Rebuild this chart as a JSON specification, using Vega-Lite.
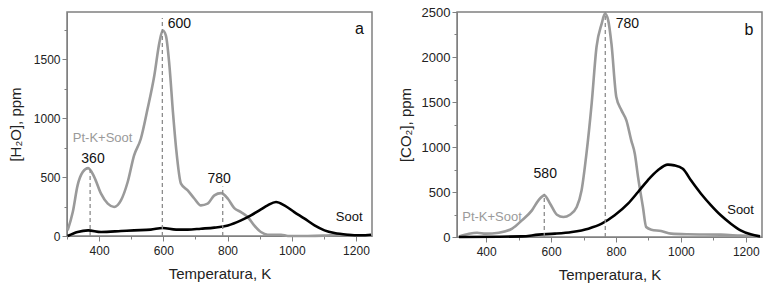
{
  "$schema": "https://vega.github.io/schema/vega-lite/v6.json",
  "padding": {"left": 7, "top": 5, "right": 8, "bottom": 4},
  "spacing": 20,
  "config": {
    "font": "Liberation Sans",
    "view": {"stroke": "#808080", "strokeWidth": 1.5},
    "axis": {"grid": false, "format": "d", "labelFont": "Liberation Sans", "titleFont": "Liberation Sans", "labelFontSize": 12, "titleFontSize": 15, "titleFontWeight": "normal", "labelColor": "#222222", "titleColor": "#222222", "tickColor": "#808080", "domainColor": "#808080", "tickSize": 5, "labelPadding": 2},
    "axisX": {"labelPadding": 4}
  },
  "datasets": {
    "h2o": [
      {"T":302,"v":48,"s":"Pt-K+Soot"},{"T":318,"v":203,"s":"Pt-K+Soot"},{"T":333,"v":429,"s":"Pt-K+Soot"},{"T":349,"v":542,"s":"Pt-K+Soot"},{"T":366,"v":576,"s":"Pt-K+Soot"},{"T":385,"v":500,"s":"Pt-K+Soot"},{"T":406,"v":359,"s":"Pt-K+Soot"},{"T":427,"v":274,"s":"Pt-K+Soot"},{"T":447,"v":246,"s":"Pt-K+Soot"},{"T":468,"v":302,"s":"Pt-K+Soot"},{"T":489,"v":458,"s":"Pt-K+Soot"},{"T":509,"v":684,"s":"Pt-K+Soot"},{"T":530,"v":825,"s":"Pt-K+Soot"},{"T":551,"v":1079,"s":"Pt-K+Soot"},{"T":572,"v":1362,"s":"Pt-K+Soot"},{"T":588,"v":1644,"s":"Pt-K+Soot"},{"T":598,"v":1743,"s":"Pt-K+Soot"},{"T":608,"v":1700,"s":"Pt-K+Soot"},{"T":619,"v":1446,"s":"Pt-K+Soot"},{"T":630,"v":1051,"s":"Pt-K+Soot"},{"T":640,"v":740,"s":"Pt-K+Soot"},{"T":655,"v":444,"s":"Pt-K+Soot"},{"T":676,"v":387,"s":"Pt-K+Soot"},{"T":697,"v":316,"s":"Pt-K+Soot"},{"T":717,"v":260,"s":"Pt-K+Soot"},{"T":738,"v":274,"s":"Pt-K+Soot"},{"T":759,"v":345,"s":"Pt-K+Soot"},{"T":780,"v":364,"s":"Pt-K+Soot"},{"T":801,"v":316,"s":"Pt-K+Soot"},{"T":821,"v":237,"s":"Pt-K+Soot"},{"T":842,"v":203,"s":"Pt-K+Soot"},{"T":863,"v":161,"s":"Pt-K+Soot"},{"T":883,"v":90,"s":"Pt-K+Soot"},{"T":904,"v":34,"s":"Pt-K+Soot"},{"T":925,"v":11,"s":"Pt-K+Soot"},{"T":967,"v":11,"s":"Pt-K+Soot"},{"T":988,"v":0,"s":"Pt-K+Soot"},{"T":1050,"v":0,"s":"Pt-K+Soot"},{"T":1100,"v":3,"s":"Pt-K+Soot"},{"T":1150,"v":10,"s":"Pt-K+Soot"},{"T":1200,"v":5,"s":"Pt-K+Soot"},{"T":1247,"v":3,"s":"Pt-K+Soot"},
      {"T":302,"v":0,"s":"Soot"},{"T":333,"v":34,"s":"Soot"},{"T":366,"v":48,"s":"Soot"},{"T":406,"v":34,"s":"Soot"},{"T":468,"v":42,"s":"Soot"},{"T":509,"v":48,"s":"Soot"},{"T":561,"v":54,"s":"Soot"},{"T":598,"v":68,"s":"Soot"},{"T":640,"v":54,"s":"Soot"},{"T":676,"v":54,"s":"Soot"},{"T":717,"v":62,"s":"Soot"},{"T":759,"v":71,"s":"Soot"},{"T":801,"v":90,"s":"Soot"},{"T":842,"v":133,"s":"Soot"},{"T":873,"v":175,"s":"Soot"},{"T":904,"v":226,"s":"Soot"},{"T":925,"v":260,"s":"Soot"},{"T":951,"v":288,"s":"Soot"},{"T":977,"v":260,"s":"Soot"},{"T":1008,"v":203,"s":"Soot"},{"T":1040,"v":147,"s":"Soot"},{"T":1071,"v":90,"s":"Soot"},{"T":1102,"v":48,"s":"Soot"},{"T":1133,"v":25,"s":"Soot"},{"T":1174,"v":11,"s":"Soot"},{"T":1216,"v":6,"s":"Soot"},{"T":1247,"v":11,"s":"Soot"}
    ],
    "co2": [
      {"T":316,"v":7,"s":"Pt-K+Soot"},{"T":347,"v":37,"s":"Pt-K+Soot"},{"T":372,"v":48,"s":"Pt-K+Soot"},{"T":398,"v":37,"s":"Pt-K+Soot"},{"T":439,"v":48,"s":"Pt-K+Soot"},{"T":480,"v":93,"s":"Pt-K+Soot"},{"T":510,"v":185,"s":"Pt-K+Soot"},{"T":541,"v":296,"s":"Pt-K+Soot"},{"T":561,"v":407,"s":"Pt-K+Soot"},{"T":579,"v":463,"s":"Pt-K+Soot"},{"T":597,"v":370,"s":"Pt-K+Soot"},{"T":618,"v":248,"s":"Pt-K+Soot"},{"T":638,"v":222,"s":"Pt-K+Soot"},{"T":658,"v":248,"s":"Pt-K+Soot"},{"T":679,"v":333,"s":"Pt-K+Soot"},{"T":694,"v":519,"s":"Pt-K+Soot"},{"T":709,"v":926,"s":"Pt-K+Soot"},{"T":725,"v":1482,"s":"Pt-K+Soot"},{"T":740,"v":2111,"s":"Pt-K+Soot"},{"T":756,"v":2370,"s":"Pt-K+Soot"},{"T":766,"v":2482,"s":"Pt-K+Soot"},{"T":776,"v":2407,"s":"Pt-K+Soot"},{"T":786,"v":2148,"s":"Pt-K+Soot"},{"T":801,"v":1556,"s":"Pt-K+Soot"},{"T":817,"v":1407,"s":"Pt-K+Soot"},{"T":832,"v":1296,"s":"Pt-K+Soot"},{"T":847,"v":1074,"s":"Pt-K+Soot"},{"T":858,"v":926,"s":"Pt-K+Soot"},{"T":868,"v":667,"s":"Pt-K+Soot"},{"T":883,"v":333,"s":"Pt-K+Soot"},{"T":893,"v":111,"s":"Pt-K+Soot"},{"T":909,"v":81,"s":"Pt-K+Soot"},{"T":939,"v":67,"s":"Pt-K+Soot"},{"T":970,"v":37,"s":"Pt-K+Soot"},{"T":1021,"v":30,"s":"Pt-K+Soot"},{"T":1123,"v":26,"s":"Pt-K+Soot"},{"T":1184,"v":15,"s":"Pt-K+Soot"},{"T":1244,"v":7,"s":"Pt-K+Soot"},
      {"T":316,"v":0,"s":"Soot"},{"T":510,"v":7,"s":"Soot"},{"T":561,"v":26,"s":"Soot"},{"T":612,"v":37,"s":"Soot"},{"T":664,"v":56,"s":"Soot"},{"T":715,"v":93,"s":"Soot"},{"T":756,"v":148,"s":"Soot"},{"T":796,"v":241,"s":"Soot"},{"T":837,"v":370,"s":"Soot"},{"T":868,"v":500,"s":"Soot"},{"T":898,"v":630,"s":"Soot"},{"T":929,"v":741,"s":"Soot"},{"T":960,"v":804,"s":"Soot"},{"T":980,"v":796,"s":"Soot"},{"T":1006,"v":759,"s":"Soot"},{"T":1031,"v":630,"s":"Soot"},{"T":1062,"v":481,"s":"Soot"},{"T":1093,"v":352,"s":"Soot"},{"T":1123,"v":241,"s":"Soot"},{"T":1154,"v":148,"s":"Soot"},{"T":1184,"v":74,"s":"Soot"},{"T":1215,"v":30,"s":"Soot"},{"T":1244,"v":7,"s":"Soot"}
    ]
  },
  "hconcat": [
    {
      "width": 305, "height": 224,
      "resolve": {"axis": {"x": "independent", "y": "independent"}},
      "layer": [
        {
          "data": {"name": "h2o"},
          "mark": {"type": "line", "strokeWidth": 2.6, "interpolate": "monotone"},
          "encoding": {
            "x": {"field": "T", "type": "quantitative", "scale": {"domain": [300, 1250], "nice": false}, "axis": {"values": [400, 600, 800, 1000, 1200], "title": "Temperatura, K", "titlePadding": 10}},
            "y": {"field": "v", "type": "quantitative", "scale": {"domain": [0, 1900], "nice": false}, "axis": {"values": [0, 500, 1000, 1500], "title": "[H₂O], ppm", "titlePadding": 10}},
            "color": {"field": "s", "type": "nominal", "scale": {"domain": ["Pt-K+Soot", "Soot"], "range": ["#9a9a9a", "#000000"]}, "legend": null},
            "order": {"field": "T"}
          }
        },
        {
          "data": {"values": [{"T": 372, "v0": 0, "v1": 580}, {"T": 597, "v0": 0, "v1": 1850}, {"T": 785, "v0": 0, "v1": 420}]},
          "mark": {"type": "rule", "strokeDash": [4, 3], "color": "#8c8c8c", "strokeWidth": 1.3},
          "encoding": {
            "x": {"field": "T", "type": "quantitative", "axis": {"values": [300, 500, 700, 900, 1100], "labels": false, "title": null, "domain": false, "tickSize": 3, "orient": "bottom"}},
            "y": {"field": "v0", "type": "quantitative", "axis": {"values": [250, 750, 1250, 1750], "labels": false, "title": null, "domain": false, "tickSize": 3, "orient": "left"}},
            "y2": {"field": "v1"}
          }
        },
        {
          "data": {"values": [{"T": 381, "v": 649, "label": "360"}, {"T": 650, "v": 1799, "label": "600"}, {"T": 774, "v": 486, "label": "780"}]},
          "mark": {"type": "text", "fontSize": 14, "color": "#111111", "align": "center", "baseline": "middle"},
          "encoding": {
            "x": {"field": "T", "type": "quantitative", "axis": null},
            "y": {"field": "v", "type": "quantitative", "axis": null},
            "text": {"field": "label"}
          }
        },
        {
          "data": {"values": [{"T": 1179, "v": 161, "label": "Soot"}]},
          "mark": {"type": "text", "fontSize": 13, "color": "#111111", "align": "center", "baseline": "middle"},
          "encoding": {
            "x": {"field": "T", "type": "quantitative", "axis": null},
            "y": {"field": "v", "type": "quantitative", "axis": null},
            "text": {"field": "label"}
          }
        },
        {
          "data": {"values": [{"T": 411, "v": 833, "label": "Pt-K+Soot"}]},
          "mark": {"type": "text", "fontSize": 13, "color": "#9a9a9a", "align": "center", "baseline": "middle"},
          "encoding": {
            "x": {"field": "T", "type": "quantitative", "axis": null},
            "y": {"field": "v", "type": "quantitative", "axis": null},
            "text": {"field": "label"}
          }
        },
        {
          "data": {"values": [{"T": 1211, "v": 1757, "label": "a"}]},
          "mark": {"type": "text", "fontSize": 16, "color": "#111111", "align": "center", "baseline": "middle"},
          "encoding": {
            "x": {"field": "T", "type": "quantitative", "axis": null},
            "y": {"field": "v", "type": "quantitative", "axis": null},
            "text": {"field": "label"}
          }
        }
      ]
    },
    {
      "width": 305, "height": 225,
      "resolve": {"axis": {"x": "independent", "y": "independent"}},
      "layer": [
        {
          "data": {"name": "co2"},
          "mark": {"type": "line", "strokeWidth": 2.6, "interpolate": "monotone"},
          "encoding": {
            "x": {"field": "T", "type": "quantitative", "scale": {"domain": [310, 1250], "nice": false}, "axis": {"values": [400, 600, 800, 1000, 1200], "title": "Temperatura, K", "titlePadding": 10}},
            "y": {"field": "v", "type": "quantitative", "scale": {"domain": [0, 2500], "nice": false}, "axis": {"values": [0, 500, 1000, 1500, 2000, 2500], "title": "[CO₂], ppm", "titlePadding": 8, "labelFontSize": 13}},
            "color": {"field": "s", "type": "nominal", "scale": {"domain": ["Pt-K+Soot", "Soot"], "range": ["#9a9a9a", "#000000"]}, "legend": null},
            "order": {"field": "T"}
          }
        },
        {
          "data": {"values": [{"T": 579, "v0": 0, "v1": 480}, {"T": 767, "v0": 0, "v1": 2500}]},
          "mark": {"type": "rule", "strokeDash": [4, 3], "color": "#8c8c8c", "strokeWidth": 1.3},
          "encoding": {
            "x": {"field": "T", "type": "quantitative", "axis": {"values": [500, 700, 900, 1100], "labels": false, "title": null, "domain": false, "tickSize": 3, "orient": "bottom"}},
            "y": {"field": "v0", "type": "quantitative", "axis": {"values": [250, 750, 1250, 1750, 2250], "labels": false, "title": null, "domain": false, "tickSize": 3, "orient": "left"}},
            "y2": {"field": "v1"}
          }
        },
        {
          "data": {"values": [{"T": 582, "v": 696, "label": "580"}, {"T": 835, "v": 2370, "label": "780"}]},
          "mark": {"type": "text", "fontSize": 14, "color": "#111111", "align": "center", "baseline": "middle"},
          "encoding": {
            "x": {"field": "T", "type": "quantitative", "axis": null},
            "y": {"field": "v", "type": "quantitative", "axis": null},
            "text": {"field": "label"}
          }
        },
        {
          "data": {"values": [{"T": 1184, "v": 296, "label": "Soot"}]},
          "mark": {"type": "text", "fontSize": 13, "color": "#111111", "align": "center", "baseline": "middle"},
          "encoding": {
            "x": {"field": "T", "type": "quantitative", "axis": null},
            "y": {"field": "v", "type": "quantitative", "axis": null},
            "text": {"field": "label"}
          }
        },
        {
          "data": {"values": [{"T": 418, "v": 222, "label": "Pt-K+Soot"}]},
          "mark": {"type": "text", "fontSize": 13, "color": "#9a9a9a", "align": "center", "baseline": "middle"},
          "encoding": {
            "x": {"field": "T", "type": "quantitative", "axis": null},
            "y": {"field": "v", "type": "quantitative", "axis": null},
            "text": {"field": "label"}
          }
        },
        {
          "data": {"values": [{"T": 1210, "v": 2296, "label": "b"}]},
          "mark": {"type": "text", "fontSize": 16, "color": "#111111", "align": "center", "baseline": "middle"},
          "encoding": {
            "x": {"field": "T", "type": "quantitative", "axis": null},
            "y": {"field": "v", "type": "quantitative", "axis": null},
            "text": {"field": "label"}
          }
        }
      ]
    }
  ]
}
